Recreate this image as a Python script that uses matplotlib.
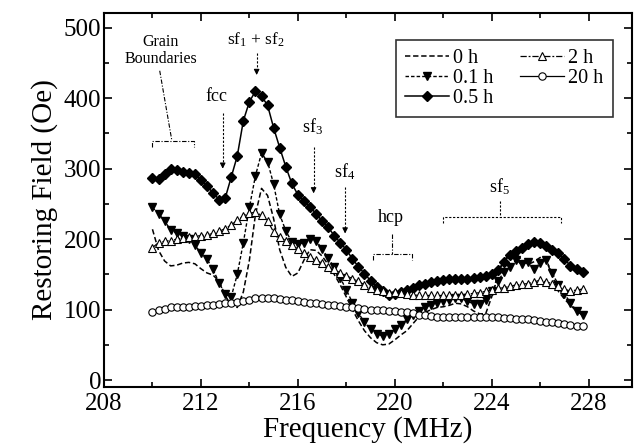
import matplotlib
matplotlib.use("Agg")
import matplotlib.pyplot as plt
from matplotlib.ticker import MultipleLocator

plt.rcParams['font.family'] = ['Liberation Serif', 'DejaVu Serif']
plt.rcParams['mathtext.fontset'] = 'custom'
plt.rcParams['mathtext.rm'] = 'Liberation Serif'
plt.rcParams['mathtext.it'] = 'Liberation Serif'

# Frequency grid (MHz)
freq = [210.00, 210.25, 210.50, 210.75, 211.00, 211.25, 211.50, 211.75,
        212.00, 212.25, 212.50, 212.75, 213.00, 213.25, 213.50, 213.75,
        214.00, 214.25, 214.50, 214.75, 215.00, 215.25, 215.50, 215.75,
        216.00, 216.25, 216.50, 216.75, 217.00, 217.25, 217.50, 217.75,
        218.00, 218.25, 218.50, 218.75, 219.00, 219.25, 219.50, 219.75,
        220.00, 220.25, 220.50, 220.75, 221.00, 221.25, 221.50, 221.75,
        222.00, 222.25, 222.50, 222.75, 223.00, 223.25, 223.50, 223.75,
        224.00, 224.25, 224.50, 224.75, 225.00, 225.25, 225.50, 225.75,
        226.00, 226.25, 226.50, 226.75, 227.00, 227.25, 227.50, 227.75]

# Restoring field (Oe) for each milling time
field_0h = [214, 184, 169, 162, 163, 166, 167, 165,
            158, 152, 149, 140, 120, 106, 103, 125,
            170, 235, 272, 262, 229, 185, 160, 147,
            152, 170, 185, 184, 176, 164, 150, 135,
            118, 100, 84, 70, 60, 53, 50, 51,
            57, 64, 70, 80, 90, 96, 100, 103,
            104, 106, 109, 108, 104, 98, 94, 94,
            118, 150, 170, 178, 180, 170, 164, 168,
            174, 170, 148, 126, 115, 106, 98, 92]

field_01h = [245, 236, 226, 213, 208, 205, 200, 191,
             181, 172, 157, 138, 122, 118, 150, 195,
             245, 290, 322, 310, 278, 235, 212, 196,
             193, 195, 200, 198, 186, 173, 160, 145,
             128, 110, 95, 82, 72, 65, 63, 66,
             72, 78, 86, 93, 98, 103, 107, 110,
             112, 114, 116, 116, 112, 108, 108, 114,
             126, 140, 153, 160, 170, 164, 168, 158,
             166, 170, 152, 135, 122, 110, 98, 92]

field_05h = [287, 285, 293, 300, 298, 296, 294, 292,
             284, 275, 266, 256, 258, 288, 318, 368,
             395, 410, 403, 390, 358, 330, 303, 279,
             263, 254, 246, 236, 226, 217, 205, 195,
             185, 172, 161, 151, 141, 132, 126, 121,
             122, 125, 128, 131, 135, 137, 139, 141,
             142, 143, 143, 143, 144, 145, 146, 147,
             150, 156, 167, 178, 183, 187, 193, 196,
             195, 190, 185, 180, 172, 162, 157, 153]

field_2h = [188, 195, 197, 198, 200, 202, 203, 204,
            205, 206, 208, 211, 215, 220, 227, 233,
            237, 238, 234, 226, 210, 203, 198, 192,
            186, 180, 174, 170, 166, 161, 157, 152,
            148, 144, 140, 135, 131, 128, 126, 124,
            125, 124, 122, 121, 120, 120, 120, 120,
            120, 120, 121, 121, 122, 123, 124, 126,
            128, 130, 131, 133, 135, 136, 137, 139,
            142, 139, 137, 133, 129, 126, 128, 129]

field_20h = [97, 99, 101, 103, 103, 104, 104, 105,
             105, 106, 107, 108, 109, 110, 111, 112,
             114, 116, 117, 117, 116, 115, 114, 113,
             112, 111, 110, 109, 108, 107, 106, 105,
             104, 103, 102, 101, 100, 99, 99, 98,
             98, 97, 96, 95, 93, 92, 91, 90,
             90, 90, 90, 90, 90, 90, 89, 89,
             89, 89, 88, 88, 87, 86, 86, 85,
             84, 83, 82, 81, 80, 78, 77, 76]

fig = plt.figure(figsize=(6.38, 4.48), dpi=100)
ax = fig.add_axes([0.163, 0.136, 0.828, 0.835])

ax.plot(freq, field_0h, color='k', lw=1.1, ls=(0, (3.5, 1.8)), label='0 h')
ax.plot(freq, field_01h, color='k', lw=1.0, ls=(0, (2.5, 1.5)), marker='v',
        ms=6, mfc='k', mec='k', label='0.1 h')
ax.plot(freq, field_05h, color='k', lw=1.1, ls='-', marker='D',
        ms=5, mfc='k', mec='k', label='0.5 h')
ax.plot(freq, field_2h, color='k', lw=0.9, ls=(0, (5, 1.5, 1.5, 1.5)), marker='^',
        ms=6, mfc='white', mec='k', mew=0.8, label='2 h')
ax.plot(freq, field_20h, color='k', lw=0.9, ls='-', marker='o',
        ms=5.3, mfc='white', mec='k', mew=0.8, label='20 h')

ax.set_xlim(208, 229.8)
ax.set_ylim(-10, 521)
ax.xaxis.set_major_locator(MultipleLocator(4))
ax.xaxis.set_minor_locator(MultipleLocator(2))
ax.yaxis.set_major_locator(MultipleLocator(100))
ax.yaxis.set_minor_locator(MultipleLocator(50))
ax.tick_params(which='both', direction='in', top=True, right=True,
               labelsize=18, width=1.2)
ax.tick_params(axis='x', pad=4)
ax.tick_params(axis='y', pad=2)
ax.tick_params(which='major', length=6)
ax.tick_params(which='minor', length=3.5)
for s in ax.spines.values():
    s.set_linewidth(1.5)

ax.set_xlabel('Frequency (MHz)', fontsize=21, labelpad=1)
ax.set_ylabel('Restoring Field (Oe)', fontsize=21, labelpad=4)

# legend: two columns
leg = ax.legend(ncol=2, loc='upper right', bbox_to_anchor=(0.982, 0.955),
                fontsize=14.5, frameon=True, fancybox=False, edgecolor='k',
                handlelength=2.2, handletextpad=0.2, columnspacing=1.3,
                labelspacing=0.05, borderpad=0.45)
leg.get_frame().set_linewidth(1.2)


def arrow_down(x, y_top, y_end):
    ax.plot([x, x], [y_top, y_end + 12], color='k', lw=0.8, ls=(0, (2, 1.5)))
    ax.annotate('', xy=(x, y_end), xytext=(x, y_end + 14),
                arrowprops=dict(arrowstyle='-|>', color='k', lw=0.8,
                                mutation_scale=8))


# Grain Boundaries label with bracket
ax.text(210.35, 468, 'Grain\nBoundaries', ha='center', va='center',
        fontsize=11.5, linespacing=1.1)
gb_style = (0, (4, 1.5, 1, 1.5))
ax.plot([210.0, 210.0, 211.7, 211.7], [331, 340, 340, 331], color='k', lw=0.8, ls=gb_style)
ax.plot([210.3, 210.8], [439, 340], color='k', lw=0.8, ls=gb_style)

# fcc
ax.text(212.66, 403, 'fcc', ha='center', va='center', fontsize=13)
arrow_down(212.9, 379, 296)

# sf1 + sf2
ax.text(214.25, 483, 'sf$_1$ + sf$_2$', ha='center', va='center', fontsize=12.5)
arrow_down(214.3, 464, 429)

# sf3
ax.text(216.6, 360, 'sf$_3$', ha='center', va='center', fontsize=13)
arrow_down(216.65, 331, 261)

# sf4
ax.text(217.95, 296, 'sf$_4$', ha='center', va='center', fontsize=13)
arrow_down(217.95, 274, 204)

# hcp with bracket
ax.text(219.85, 231, 'hcp', ha='center', va='center', fontsize=13)
ax.plot([219.1, 219.1, 220.7, 220.7], [170, 179, 179, 170], color='k', lw=0.8, ls=gb_style)
ax.plot([219.9, 219.9], [207, 179], color='k', lw=0.8, ls=gb_style)

# sf5 with bracket
ax.text(224.3, 274, 'sf$_5$', ha='center', va='center', fontsize=13)
ax.plot([222.0, 222.0, 226.85, 226.85], [223, 231, 231, 223], color='k', lw=0.8, ls=(0, (2, 1.5)))
ax.plot([224.35, 224.35], [254, 231], color='k', lw=0.8, ls=(0, (2, 1.5)))

fig.savefig('out.png', dpi=100)
